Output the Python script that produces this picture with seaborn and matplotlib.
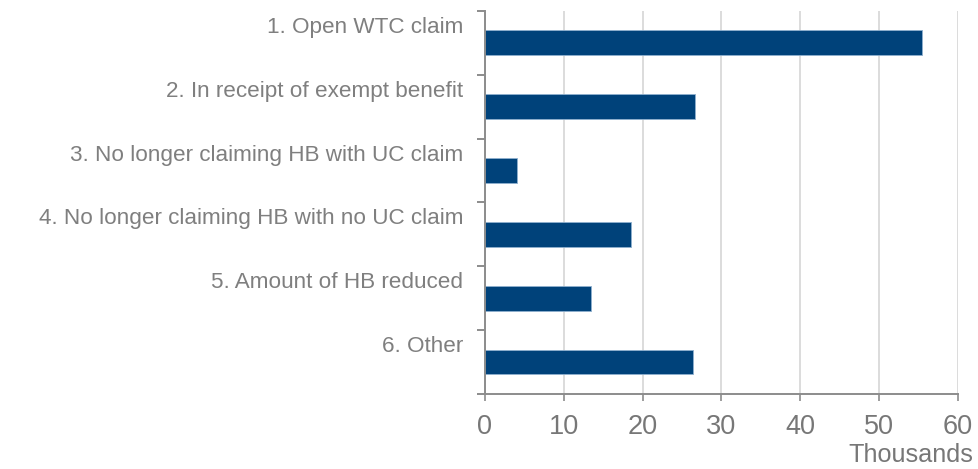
import seaborn as sns
import matplotlib.pyplot as plt
import matplotlib.transforms as mtransforms
import pandas as pd

categories = ['1. Open WTC claim',
              '2. In receipt of exempt benefit',
              '3. No longer claiming HB with UC claim',
              '4. No longer claiming HB with no UC claim',
              '5. Amount of HB reduced',
              '6. Other']
values = [55.5, 26.6, 4.1, 18.5, 13.4, 26.4]
x_ticks = [0, 10, 20, 30, 40, 50, 60]

df = pd.DataFrame({'category': categories, 'value': values})

sns.set_style('white')
plt.rcParams['font.family'] = ['Liberation Sans', 'DejaVu Sans']

text_grey = '#7f7f7f'
axis_grey = '#8c8c8c'

fig = plt.figure(figsize=(9.79, 4.69), dpi=100)
ax = fig.add_axes([0.4954, 0.160, 0.4831, 0.8165])

sns.barplot(data=df, x='value', y='category', orient='h', color='#00427a',
            saturation=1, width=0.39, edgecolor='#8fb0cf', linewidth=0.6, ax=ax)

ax.set_xlim(0, 60)
ax.set_ylim(5.5, -0.5)
ax.set_xticks(x_ticks)
ax.set_xticklabels([str(t) for t in x_ticks])
ax.xaxis.grid(True, color='#d9d9d9', linewidth=1.3)
ax.set_axisbelow(True)

# category labels sit above the bars; boundary ticks on the axis
ax.set_yticks(range(len(categories)))
ax.set_yticklabels(categories)
ax.set_yticks([i - 0.5 for i in range(len(categories) + 1)], minor=True)
ax.tick_params(axis='y', which='major', left=True, length=0, pad=15.5,
               labelsize=16.2, labelcolor=text_grey)
ax.tick_params(axis='y', which='minor', left=True, length=6, width=1.4,
               color=axis_grey)
ax.tick_params(axis='x', which='major', bottom=True, length=5, width=1.2,
               color=axis_grey, pad=9.5, labelsize=19.5, labelcolor='#777777')
shift = mtransforms.ScaledTranslation(0, 18 / 100, fig.dpi_scale_trans)
for lab in ax.get_yticklabels():
    lab.set_transform(lab.get_transform() + shift)

ax.set_xlabel('')
ax.set_ylabel('')
for side in ['top', 'right']:
    ax.spines[side].set_visible(False)
for side in ['left', 'bottom']:
    ax.spines[side].set_color(axis_grey)
    ax.spines[side].set_linewidth(1.4)

fig.text(973 / 979, 1 - 455 / 469, 'Thousands', ha='right', va='center',
         fontsize=18.2, color='#777777')

fig.savefig('out.png', dpi=100)
